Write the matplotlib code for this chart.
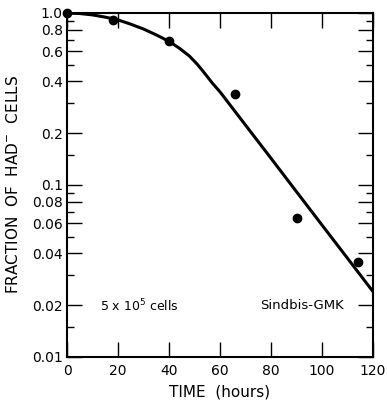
import matplotlib
matplotlib.use("Agg")
import matplotlib.pyplot as plt
from matplotlib.ticker import FixedLocator, NullFormatter

# Observed data points
time_pts = [0, 18, 40, 66, 90, 114]
frac_pts = [1.0, 0.915, 0.684, 0.338, 0.0645, 0.0357]

# Fitted curve
curve_t = [0, 5, 10, 15, 20, 25, 30, 35, 40, 44, 48, 51, 53, 55, 57,
           60, 70, 80, 90, 100, 110, 120]
curve_f = [1.0, 0.993, 0.975, 0.946, 0.912, 0.861, 0.807, 0.746, 0.684, 0.625,
           0.562, 0.505, 0.465, 0.427, 0.391,
           0.348, 0.223, 0.143, 0.0914, 0.0585, 0.0375, 0.024]

y_major = [0.01, 0.02, 0.04, 0.06, 0.08, 0.1, 0.2, 0.4, 0.6, 0.8, 1.0]
y_labels = ["0.01", "0.02", "0.04", "0.06", "0.08", "0.1", "0.2", "0.4", "0.6", "0.8", "1.0"]
y_minor = [0.015, 0.03, 0.05, 0.07, 0.09, 0.15, 0.3, 0.5, 0.7, 0.9]
x_ticks = [0, 20, 40, 60, 80, 100, 120]

fig = plt.figure(figsize=(3.87, 4.01), dpi=100)
ax = fig.add_axes([67/387, 1 - 357/401, (373 - 67)/387, (357 - 13)/401])

ax.plot(curve_t, curve_f, color="black", lw=2.2, solid_joinstyle="round", zorder=3)
ax.plot(time_pts, frac_pts, "o", color="black", ms=6, zorder=4, clip_on=False)

ax.set_yscale("log")
ax.set_xlim(0, 120)
ax.set_ylim(0.01, 1.0)

ax.yaxis.set_major_locator(FixedLocator(y_major))
ax.set_yticklabels(y_labels)
ax.yaxis.set_minor_locator(FixedLocator(y_minor))
ax.yaxis.set_minor_formatter(NullFormatter())
ax.set_xticks(x_ticks)
ax.set_xticklabels([str(v) for v in x_ticks])
ax.xaxis.set_minor_locator(FixedLocator([]))

ax.tick_params(axis="both", which="major", direction="in", length=10.5, width=1.0,
               labelsize=10, top=True, right=True, color="black")
ax.tick_params(axis="both", which="minor", direction="in", length=5, width=1.0,
               top=True, right=True)
ax.tick_params(axis="y", which="major", pad=3)
ax.tick_params(axis="x", which="major", pad=5)

for s in ax.spines.values():
    s.set_linewidth(1.5)

ax.set_ylabel("FRACTION  OF  HAD$^{-}$  CELLS", fontsize=11, labelpad=8)
ax.set_xlabel("TIME  (hours)", fontsize=11, labelpad=5)

ax.text(13, 0.0198, "5 x 10$^5$ cells", fontsize=9,
        ha="left", va="center")
ax.text(108.5, 0.0198, "Sindbis-GMK", fontsize=9.5,
        ha="right", va="center")

fig.savefig("out.png", dpi=100)
